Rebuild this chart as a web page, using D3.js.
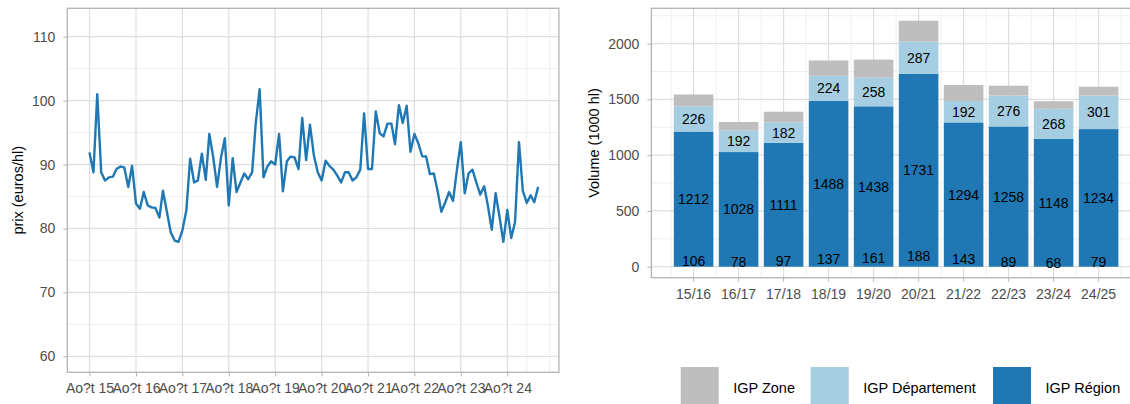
<!DOCTYPE html>
<html>
<head>
<meta charset="utf-8">
<script src="https://cdn.jsdelivr.net/npm/d3@7"></script>
<style>
  body { margin: 0; background: #fff; }
  svg { display: block; font-family: "Liberation Sans", Arial, sans-serif; }
</style>
</head>
<body>
<div id="chart"></div>
<script>
// DATA

// prix mensuel (euros/hl), from Aug 2015 onwards
const prix = [
  91.9, 88.8, 101.0, 88.8, 87.5, 88.0, 88.1, 89.3, 89.7, 89.5, 86.5, 89.8,
  83.9, 83.1, 85.7, 83.6, 83.3, 83.2, 81.7, 85.9, 82.6, 79.4, 78.1, 77.9,
  79.7, 82.8, 90.9, 87.2, 87.5, 91.7, 87.6, 94.8, 91.1, 86.5, 91.1, 94.1,
  83.6, 91.0, 85.7, 87.2, 88.6, 87.7, 88.8, 96.4, 101.8, 88.0, 89.7, 90.5,
  90.0, 94.8, 85.8, 90.5, 91.25, 91.1, 89.3, 97.3, 90.7, 96.25, 91.4, 88.8,
  87.5, 90.6, 89.8, 89.2, 88.3, 87.2, 88.8, 88.8, 87.5, 88.0, 89.2, 98.0,
  89.3, 89.3, 98.3, 94.9, 94.4, 96.4, 96.4, 93.2, 99.3, 96.5, 99.2, 92.0,
  94.8, 93.3, 91.3, 91.25, 88.5, 88.6, 85.7, 82.6, 84.1, 85.7, 84.3, 89.1,
  93.5, 85.5, 88.6, 89.2, 87.2, 85.3, 86.6, 83.6, 79.8, 85.5, 81.8, 77.9,
  82.9, 78.5, 81.0, 93.5, 85.9, 84.0, 85.2, 84.1, 86.5
];
const firstMonth = new Date(2015, 7, 1);
const months = prix.map((p, i) => d3.timeMonth.offset(firstMonth, i));

const priceTicks = [60, 70, 80, 90, 100, 110];
const yearTickLabels = ["Ao?t 15", "Ao?t 16", "Ao?t 17", "Ao?t 18", "Ao?t 19",
                        "Ao?t 20", "Ao?t 21", "Ao?t 22", "Ao?t 23", "Ao?t 24"];

const seasons = ["15/16", "16/17", "17/18", "18/19", "19/20", "20/21", "21/22", "22/23", "23/24", "24/25"];
const igpRegion = [1212, 1028, 1111, 1488, 1438, 1731, 1294, 1258, 1148, 1234];
const igpDepartement = [226, 192, 182, 224, 258, 287, 192, 276, 268, 301];
const igpZone = [106, 78, 97, 137, 161, 188, 143, 89, 68, 79];
const volumeTicks = [0, 500, 1000, 1500, 2000];

const legendLabels = ["IGP Zone", "IGP Département", "IGP Région"];
const colours = {zone: "#bebebe", dep: "#a6cee3", reg: "#1f78b4"};

// SET UP

const width = 1130, height = 404;
const gridMajor = "#dedede", gridMinor = "#efefef", borderCol = "#b3b3b3", tickText = "#4d4d4d";

const svg = d3.select("#chart").append("svg")
    .attr("width", width)
    .attr("height", height);

// LEFT CHART - PRIX

const p1 = {left: 67.3, right: 558.9, top: 8.3, bottom: 372.3};

const x1 = d3.scaleTime()
    .domain([new Date(2015, 7, 1), new Date(2024, 7, 1)])
    .range([89.5, 507.3]);

const y1 = d3.scaleLinear()
    .domain([57.5, 114.44])
    .range([p1.bottom, p1.top]);

const g1 = svg.append("g");

// minor grid
const minorX1 = d3.timeMonth.every(6).range(new Date(2015, 7, 1), new Date(2025, 8, 1))
    .filter(d => d.getMonth() === 1 || d.getFullYear() === 2025);
g1.selectAll(".minx").data(minorX1).enter().append("line")
    .attr("x1", d => x1(d)).attr("x2", d => x1(d))
    .attr("y1", p1.top).attr("y2", p1.bottom)
    .attr("stroke", gridMinor).attr("stroke-width", 1);
g1.selectAll(".miny").data([65, 75, 85, 95, 105]).enter().append("line")
    .attr("x1", p1.left).attr("x2", p1.right)
    .attr("y1", d => y1(d)).attr("y2", d => y1(d))
    .attr("stroke", gridMinor).attr("stroke-width", 1);

// major grid
const yearTicks = yearTickLabels.map((l, i) => new Date(2015 + i, 7, 1));
g1.selectAll(".majx").data(yearTicks).enter().append("line")
    .attr("x1", d => x1(d)).attr("x2", d => x1(d))
    .attr("y1", p1.top).attr("y2", p1.bottom)
    .attr("stroke", gridMajor).attr("stroke-width", 1.2);
g1.selectAll(".majy").data(priceTicks).enter().append("line")
    .attr("x1", p1.left).attr("x2", p1.right)
    .attr("y1", d => y1(d)).attr("y2", d => y1(d))
    .attr("stroke", gridMajor).attr("stroke-width", 1.2);

// line
g1.append("path")
    .datum(prix)
    .attr("fill", "none")
    .attr("stroke", colours.reg)
    .attr("stroke-width", 2.4)
    .attr("stroke-linejoin", "round")
    .attr("d", d3.line().x((d, i) => x1(months[i])).y(d => y1(d)));

g1.append("rect")
    .attr("x", p1.left).attr("y", p1.top)
    .attr("width", p1.right - p1.left).attr("height", p1.bottom - p1.top)
    .attr("fill", "none").attr("stroke", borderCol).attr("stroke-width", 1.3);

// axes
const xAxis1 = g1.append("g")
    .attr("transform", `translate(0,${p1.bottom})`)
    .call(d3.axisBottom(x1).tickValues(yearTicks).tickSize(4).tickPadding(7)
        .tickFormat((d, i) => yearTickLabels[i]));
const yAxis1 = g1.append("g")
    .attr("transform", `translate(${p1.left},0)`)
    .call(d3.axisLeft(y1).tickValues(priceTicks).tickSize(4).tickPadding(8));
[xAxis1, yAxis1].forEach(a => {
    a.select(".domain").remove();
    a.selectAll(".tick line").attr("stroke", borderCol);
    a.selectAll("text").attr("fill", tickText).style("font-size", "14px")
        .style("font-family", "'Liberation Sans', Arial, sans-serif");
});

g1.append("text")
    .attr("transform", `translate(18,${(p1.top + p1.bottom) / 2}) rotate(-90)`)
    .attr("text-anchor", "middle")
    .attr("dominant-baseline", "central")
    .style("font-size", "14.5px")
    .text("prix (euros/hl)");

// RIGHT CHART - VOLUMES

const p2 = {left: 651.4, right: 1136, top: 8.3, bottom: 277.7};

const x2 = d3.scaleBand()
    .domain(seasons)
    .range([671.1, 1121.1])
    .paddingInner(0.12)
    .paddingOuter(0.06);

const y2 = d3.scaleLinear()
    .domain([-98.6, 2317])
    .range([p2.bottom, p2.top]);

const g2 = svg.append("g");

const step = x2.step();
const bandEdges = d3.range(seasons.length + 1).map(i => i === seasons.length
    ? x2(seasons[i - 1]) + x2.bandwidth() / 2 + step / 2
    : x2(seasons[i]) + x2.bandwidth() / 2 - step / 2);
g2.selectAll(".minx").data(bandEdges).enter().append("line")
    .attr("x1", d => d).attr("x2", d => d)
    .attr("y1", p2.top).attr("y2", p2.bottom)
    .attr("stroke", gridMinor).attr("stroke-width", 1);
g2.selectAll(".miny").data([250, 750, 1250, 1750, 2250]).enter().append("line")
    .attr("x1", p2.left).attr("x2", p2.right)
    .attr("y1", d => y2(d)).attr("y2", d => y2(d))
    .attr("stroke", gridMinor).attr("stroke-width", 1);
g2.selectAll(".majx").data(seasons).enter().append("line")
    .attr("x1", d => x2(d) + x2.bandwidth() / 2).attr("x2", d => x2(d) + x2.bandwidth() / 2)
    .attr("y1", p2.top).attr("y2", p2.bottom)
    .attr("stroke", gridMajor).attr("stroke-width", 1.2);
g2.selectAll(".majy").data(volumeTicks).enter().append("line")
    .attr("x1", p2.left).attr("x2", p2.right)
    .attr("y1", d => y2(d)).attr("y2", d => y2(d))
    .attr("stroke", gridMajor).attr("stroke-width", 1.2);

// stacked bars: Région at bottom, then Département, then Zone
const stackRows = seasons.map((s, i) => ({season: s, reg: igpRegion[i], dep: igpDepartement[i], zone: igpZone[i]}));
const series = d3.stack().keys(["reg", "dep", "zone"])(stackRows);

g2.selectAll(".layer").data(series).enter().append("g")
    .attr("fill", d => colours[d.key])
    .selectAll("rect").data(d => d).enter().append("rect")
        .attr("x", d => x2(d.data.season))
        .attr("width", x2.bandwidth())
        .attr("y", d => y2(d[1]))
        .attr("height", d => y2(d[0]) - y2(d[1]));

// value labels (zone labels sit at the foot of the bar)
const labelRows = [];
stackRows.forEach(d => {
    labelRows.push({season: d.season, v: d.reg, pos: d.reg / 2});
    labelRows.push({season: d.season, v: d.dep, pos: d.reg + d.dep / 2});
    labelRows.push({season: d.season, v: d.zone, pos: d.zone / 2});
});
g2.selectAll(".lab").data(labelRows).enter().append("text")
    .attr("x", d => x2(d.season) + x2.bandwidth() / 2)
    .attr("y", d => y2(d.pos))
    .attr("text-anchor", "middle")
    .attr("dominant-baseline", "central")
    .style("font-size", "14px")
    .attr("fill", "#000")
    .text(d => d.v);

g2.append("rect")
    .attr("x", p2.left).attr("y", p2.top)
    .attr("width", p2.right - p2.left).attr("height", p2.bottom - p2.top)
    .attr("fill", "none").attr("stroke", borderCol).attr("stroke-width", 1.3);

const xAxis2 = g2.append("g")
    .attr("transform", `translate(0,${p2.bottom})`)
    .call(d3.axisBottom(x2).tickSize(4).tickPadding(7));
const yAxis2 = g2.append("g")
    .attr("transform", `translate(${p2.left},0)`)
    .call(d3.axisLeft(y2).tickValues(volumeTicks).tickFormat(d3.format("d")).tickSize(4).tickPadding(8));
[xAxis2, yAxis2].forEach(a => {
    a.select(".domain").remove();
    a.selectAll(".tick line").attr("stroke", borderCol);
    a.selectAll("text").attr("fill", tickText).style("font-size", "14px")
        .style("font-family", "'Liberation Sans', Arial, sans-serif");
});

g2.append("text")
    .attr("transform", `translate(594,${(p2.top + p2.bottom) / 2}) rotate(-90)`)
    .attr("text-anchor", "middle")
    .attr("dominant-baseline", "central")
    .style("font-size", "14.5px")
    .text("Volume (1000 hl)");

// LEGEND
const legendKeys = [colours.zone, colours.dep, colours.reg];
const legendX = [680.7, 810.7, 993];
const leg = svg.selectAll(".leg").data(legendLabels).enter().append("g");
leg.append("rect")
    .attr("x", (d, i) => legendX[i]).attr("y", 367)
    .attr("width", 38).attr("height", 38)
    .attr("fill", (d, i) => legendKeys[i]);
leg.append("text")
    .attr("x", (d, i) => legendX[i] + 52.5).attr("y", 388)
    .attr("dominant-baseline", "central")
    .style("font-size", "14.5px")
    .text(d => d);
</script>
</body>
</html>
